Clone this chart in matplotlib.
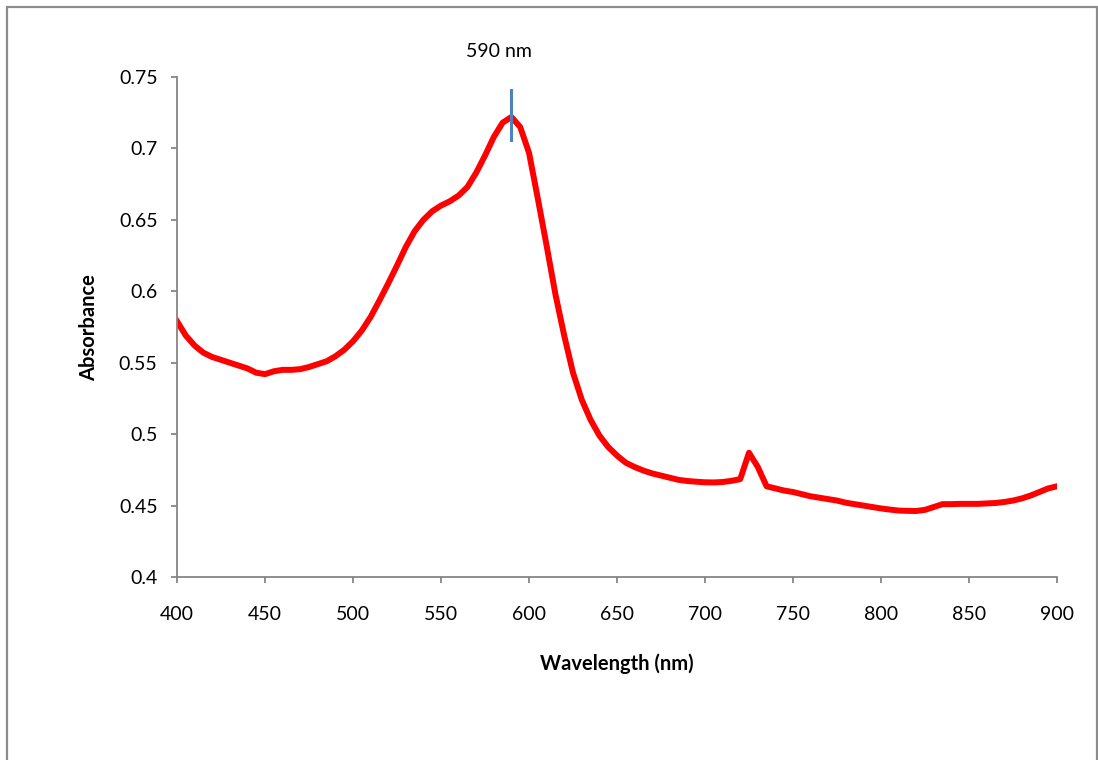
import matplotlib
matplotlib.use("Agg")
import matplotlib.pyplot as plt
import numpy as np
from matplotlib.patches import Rectangle

# absorbance spectrum, every 5 nm
wavelength = np.arange(400, 905, 5)
absorbance = [
	0.579, 0.569, 0.562, 0.557, 0.554, 0.552, 0.550, 0.548, 0.546, 0.543,
	0.542, 0.544, 0.545, 0.545, 0.5455, 0.547, 0.549, 0.551, 0.5545, 0.559,
	0.5650, 0.5725, 0.582, 0.5935, 0.6055, 0.618, 0.631, 0.642, 0.650, 0.656,
	0.660, 0.663, 0.667, 0.673, 0.683, 0.695, 0.708, 0.718, 0.722, 0.715,
	0.697, 0.665, 0.632, 0.598, 0.569, 0.543, 0.524, 0.510, 0.499, 0.491,
	0.485, 0.480, 0.477, 0.4745, 0.4725, 0.471, 0.4695, 0.468, 0.4672, 0.4667,
	0.4663, 0.4662, 0.4665, 0.4673, 0.4685, 0.487, 0.477, 0.4635, 0.462, 0.4605,
	0.4595, 0.458, 0.4565, 0.4555, 0.4545, 0.4535, 0.452, 0.451, 0.450, 0.449,
	0.448, 0.4472, 0.4465, 0.4463, 0.4462, 0.447, 0.449, 0.451, 0.451, 0.4512,
	0.4512, 0.4512, 0.4515, 0.4518, 0.4525, 0.4535, 0.455, 0.457, 0.4595, 0.462,
	0.4635,
]

peak_nm = 590
peak_marker = (0.706, 0.741)
peak_label = "590 nm"

xticks = [400, 450, 500, 550, 600, 650, 700, 750, 800, 850, 900]
yticks = [0.4, 0.45, 0.5, 0.55, 0.6, 0.65, 0.7, 0.75]
ytick_labels = ["0.4", "0.45", "0.5", "0.55", "0.6", "0.65", "0.7", "0.75"]

plt.rcParams['font.family'] = ['Lato', 'DejaVu Sans']
axis_grey = '#868686'

fig = plt.figure(figsize=(10.98, 7.6), dpi=100)
ax = fig.add_axes([177/1098, 1 - 577/760, 880/1098, 500/760])

ax.plot(wavelength, absorbance, color='#ff0000', lw=4.3, solid_joinstyle='round')
ax.plot([peak_nm, peak_nm], peak_marker, color='#4f81bd', lw=2.2, clip_on=False)
ax.text(583, 0.768, peak_label, ha='center', va='center', fontsize=14)

ax.set_xlim(400, 900)
ax.set_ylim(0.4, 0.75)
ax.set_xticks(xticks)
ax.set_yticks(yticks)
ax.set_yticklabels(ytick_labels)

for side in ['top', 'right']:
	ax.spines[side].set_visible(False)
for side in ['left', 'bottom']:
	ax.spines[side].set_color(axis_grey)
	ax.spines[side].set_linewidth(1.3)

ax.tick_params(axis='both', direction='out', length=4, width=1.3, color=axis_grey,
	labelsize=14, labelcolor='black')
ax.tick_params(axis='x', pad=17)
ax.tick_params(axis='y', pad=10)

ax.set_xlabel('Wavelength (nm)', fontsize=14.5, fontweight='bold')
ax.set_ylabel('Absorbance', fontsize=14.5, fontweight='bold')
ax.xaxis.set_label_coords(0.5, -0.152)
ax.yaxis.set_label_coords(-0.088, 0.498)

# chart-area border as in the spreadsheet export
fig.patches.append(Rectangle((6.5/1098, -0.05), 1090/1098, 1.05 - 6.5/760,
	transform=fig.transFigure, fill=False, edgecolor='#8c8c8c', lw=1.6))

fig.savefig('out.png', dpi=100)
